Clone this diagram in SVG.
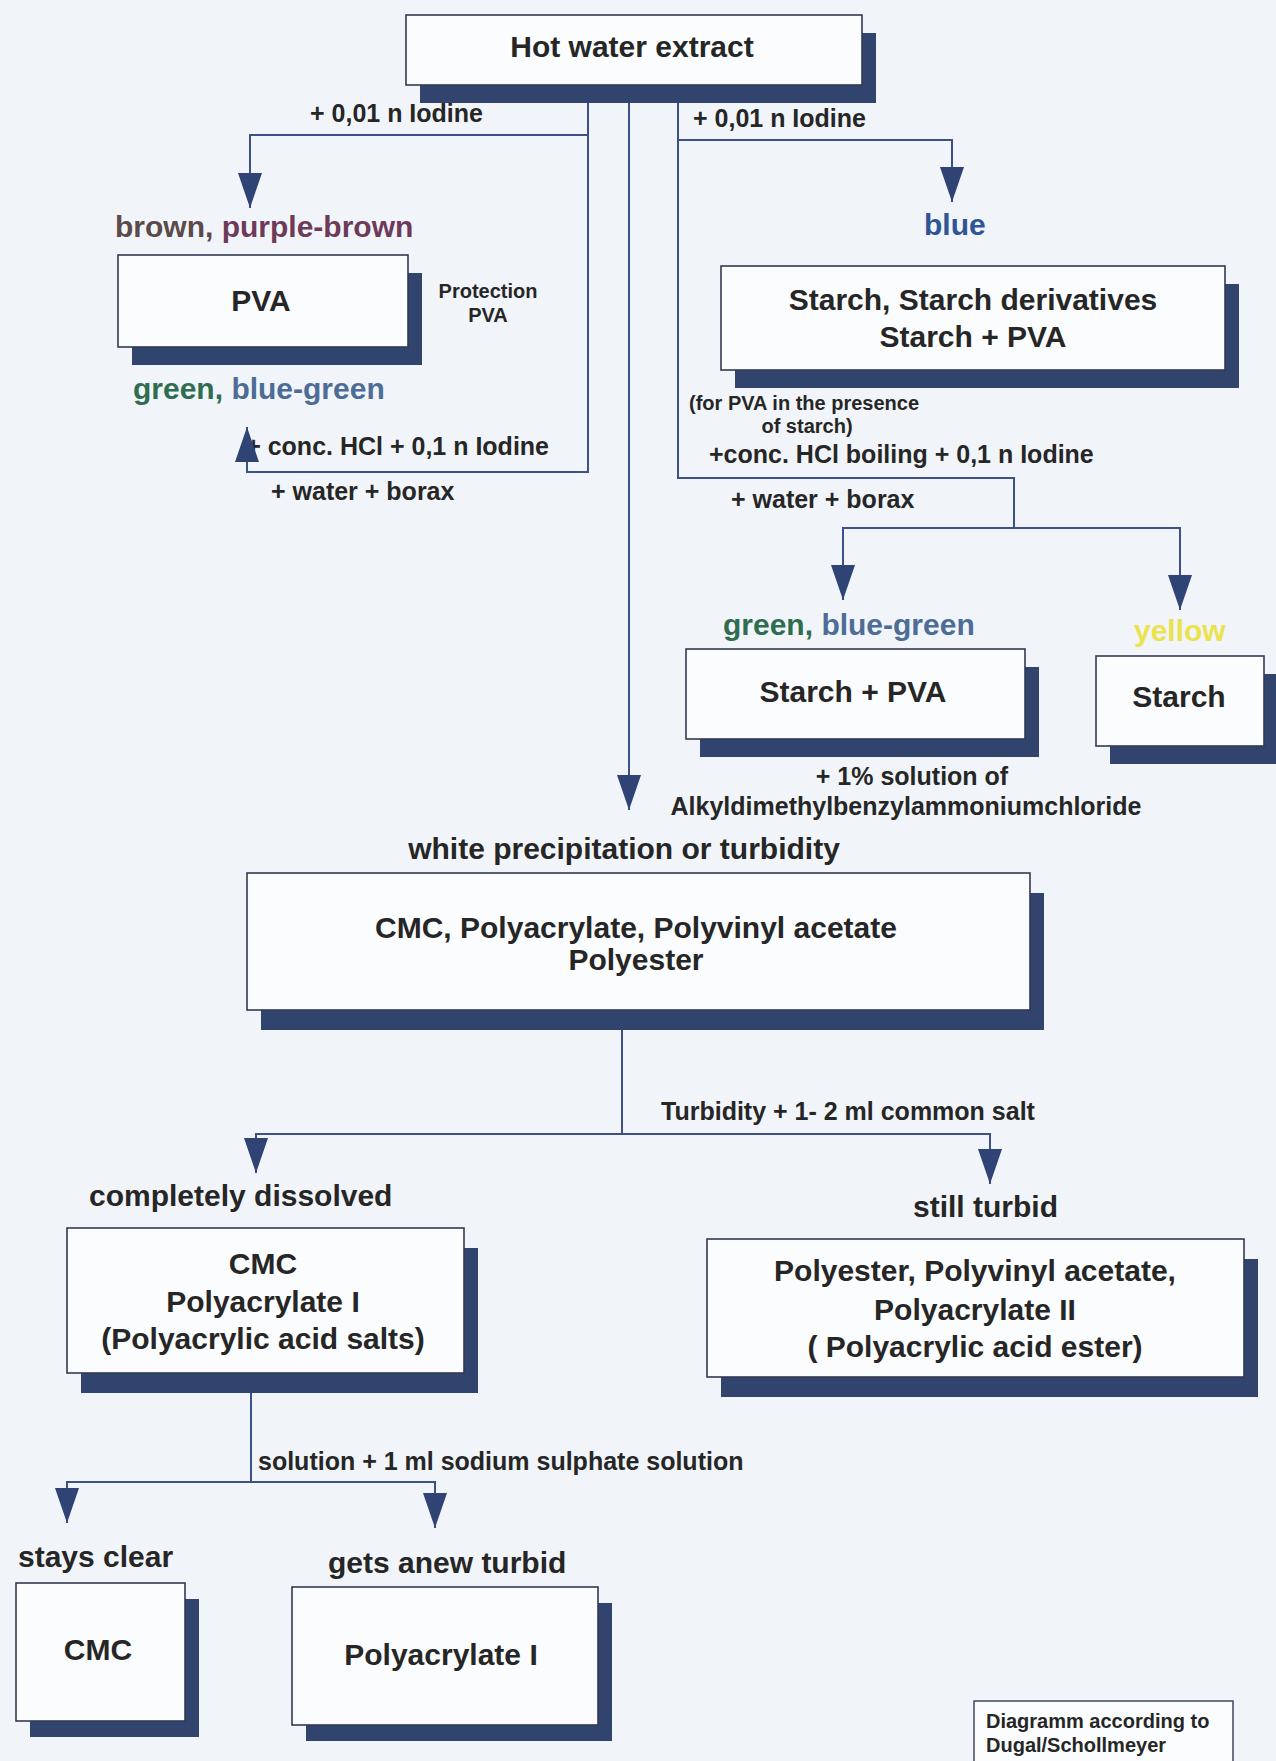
<svg xmlns="http://www.w3.org/2000/svg" width="1276" height="1761" viewBox="0 0 1276 1761">
<style>
.bg{fill:#f1f5fa}
.sh{fill:#30446e}
.bx{fill:#fbfcfe;stroke:#333a52;stroke-width:1.6}
.t{font-family:"Liberation Sans",Arial,sans-serif;font-weight:bold;fill:#262626}
.big{font-size:30px}
.med{font-size:25px}
.sm{font-size:20px}
.c{text-anchor:middle}
.e{text-anchor:end}
.ln{fill:none;stroke:#3e5088;stroke-width:2}
</style>
<defs>
<marker id="ah" markerUnits="userSpaceOnUse" markerWidth="36" markerHeight="26" refX="35" refY="12" orient="auto">
<path d="M0,0 L35,12 L0,24 Z" fill="#2f4474"/>
</marker>
</defs>
<rect class="bg" x="0" y="0" width="1276" height="1761"/>

<g id="nodes">
<g id="n-hot">
<rect class="sh" x="420" y="33" width="456" height="70"/>
<rect class="bx" x="406" y="15" width="456" height="70"/>
<text class="t big c" x="632" y="57">Hot water extract</text>
</g>
<g id="n-pva">
<rect class="sh" x="132" y="273" width="290" height="92"/>
<rect class="bx" x="118" y="255" width="290" height="92"/>
<text class="t big c" x="261" y="311">PVA</text>
</g>
<g id="n-starch-deriv">
<rect class="sh" x="735" y="284" width="504" height="104"/>
<rect class="bx" x="721" y="266" width="504" height="104"/>
<text class="t big c" x="973" y="310">Starch, Starch derivatives</text>
<text class="t big c" x="973" y="347">Starch + PVA</text>
</g>
<g id="n-starch-pva">
<rect class="sh" x="700" y="667" width="339" height="90"/>
<rect class="bx" x="686" y="649" width="339" height="90"/>
<text class="t big c" x="853" y="702">Starch + PVA</text>
</g>
<g id="n-starch">
<rect class="sh" x="1110" y="674" width="168" height="90"/>
<rect class="bx" x="1096" y="656" width="168" height="90"/>
<text class="t big c" x="1179" y="707">Starch</text>
</g>
<g id="n-cmc-group">
<rect class="sh" x="261" y="893" width="783" height="137"/>
<rect class="bx" x="247" y="873" width="783" height="137"/>
<text class="t big c" x="636" y="938">CMC, Polyacrylate, Polyvinyl acetate</text>
<text class="t big c" x="636" y="970">Polyester</text>
</g>
<g id="n-cmc-pa1">
<rect class="sh" x="81" y="1248" width="397" height="145"/>
<rect class="bx" x="67" y="1228" width="397" height="145"/>
<text class="t big c" x="263" y="1274">CMC</text>
<text class="t big c" x="263" y="1312">Polyacrylate I</text>
<text class="t big c" x="263" y="1349">(Polyacrylic acid salts)</text>
</g>
<g id="n-polyester">
<rect class="sh" x="721" y="1259" width="537" height="138"/>
<rect class="bx" x="707" y="1239" width="537" height="138"/>
<text class="t big c" x="975" y="1281">Polyester, Polyvinyl acetate,</text>
<text class="t big c" x="975" y="1320">Polyacrylate II</text>
<text class="t big c" x="975" y="1357">( Polyacrylic acid ester)</text>
</g>
<g id="n-cmc">
<rect class="sh" x="30" y="1599" width="169" height="138"/>
<rect class="bx" x="16" y="1583" width="169" height="138"/>
<text class="t big c" x="98" y="1660">CMC</text>
</g>
<g id="n-pa1">
<rect class="sh" x="306" y="1603" width="306" height="138"/>
<rect class="bx" x="292" y="1587" width="306" height="138"/>
<text class="t big c" x="441" y="1665">Polyacrylate I</text>
</g>
<g id="n-credit">
<rect x="974" y="1701" width="259" height="72" fill="#fbfcfe" stroke="#333a52" stroke-width="1.4"/>
<text class="t sm" x="986" y="1728">Diagramm according to</text>
<text class="t sm" x="986" y="1752">Dugal/Schollmeyer</text>
</g>
</g>

<g id="labels">
<text class="t big" x="115" y="237"><tspan fill="#5b4a4a">brown, </tspan><tspan fill="#6e3a5a">purple-brown</tspan></text>
<text class="t sm c" x="488" y="298">Protection</text>
<text class="t sm c" x="488" y="322">PVA</text>
<text class="t big" x="133" y="399"><tspan fill="#2f6d50">green, </tspan><tspan fill="#4d6c96">blue-green</tspan></text>
<text class="t big" x="924" y="235" fill="#2f5597" style="fill:#2f5597">blue</text>
<text class="t big" x="723" y="635"><tspan fill="#2f6d50">green, </tspan><tspan fill="#4d6c96">blue-green</tspan></text>
<text class="t big" x="1134" y="641" style="fill:#ece24e">yellow</text>
<text class="t big c" x="624" y="859">white precipitation or turbidity</text>
<text class="t big" x="89" y="1206">completely dissolved</text>
<text class="t big" x="913" y="1217">still turbid</text>
<text class="t big" x="18" y="1567">stays clear</text>
<text class="t big" x="328" y="1573">gets anew turbid</text>
</g>

<g id="connectors">
<g id="edge-labels">
<text class="t med" x="310" y="122">+ 0,01 n Iodine</text>
<text class="t med" x="693" y="127">+ 0,01 n Iodine</text>
<text class="t med e" x="549" y="455">+ conc. HCl + 0,1 n Iodine</text>
<text class="t med" x="271" y="500">+ water + borax</text>
<text class="t sm" x="689" y="410">(for PVA in the presence</text>
<text class="t sm c" x="807" y="433">of starch)</text>
<text class="t med" x="709" y="463">+conc. HCl boiling + 0,1 n Iodine</text>
<text class="t med" x="731" y="508">+ water + borax</text>
<text class="t med c" x="912" y="785">+ 1% solution of</text>
<text class="t med c" x="906" y="815">Alkyldimethylbenzylammoniumchloride</text>
<text class="t med" x="661" y="1120">Turbidity + 1- 2 ml common salt</text>
<text class="t med" x="258" y="1470">solution + 1 ml sodium sulphate solution</text>
</g>
<path class="ln" d="M588,135 H250 V208" marker-end="url(#ah)"/>
<path class="ln" d="M588,103 V472 H247 V427" marker-end="url(#ah)"/>
<path class="ln" d="M629,103 V810" marker-end="url(#ah)"/>
<path class="ln" d="M678,140 H952 V202" marker-end="url(#ah)"/>
<path class="ln" d="M678,103 V478 H1014 V528"/>
<path class="ln" d="M1014,528 H843 V600" marker-end="url(#ah)"/>
<path class="ln" d="M1014,528 H1180 V610" marker-end="url(#ah)"/>
<path class="ln" d="M622,1030 V1134"/>
<path class="ln" d="M622,1134 H256 V1173" marker-end="url(#ah)"/>
<path class="ln" d="M622,1134 H990 V1184" marker-end="url(#ah)"/>
<path class="ln" d="M251,1393 V1482"/>
<path class="ln" d="M251,1482 H67 V1523" marker-end="url(#ah)"/>
<path class="ln" d="M251,1482 H435 V1528" marker-end="url(#ah)"/>
</g>
</svg>
